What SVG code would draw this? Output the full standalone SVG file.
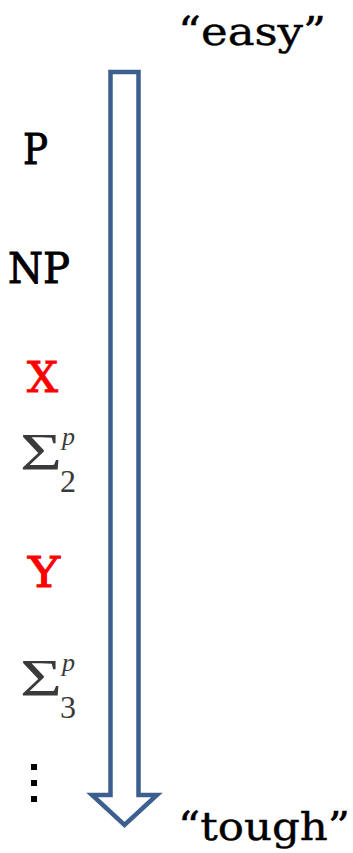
<svg xmlns="http://www.w3.org/2000/svg" width="353" height="853" viewBox="0 0 353 853">
<style>
.lbl{font-family:"DejaVu Serif","Liberation Serif",serif;font-size:43px;fill:#000;stroke:#000;stroke-width:1;}
.red{fill:#f00;stroke:#f00;}
.q{font-family:"DejaVu Serif","Liberation Serif",serif;font-size:40px;fill:#000;stroke:#000;stroke-width:0.4;}
.sig{font-family:"Liberation Serif","DejaVu Serif",serif;fill:#3a3a3a;}
.dot{fill:#000;}
</style>
<rect width="353" height="853" fill="#fff"/>
<g id="arrow">
<polygon points="110.5,72 138.5,72 138.5,795 157,795 124.5,825 92,795 110.5,795" fill="#fff" stroke="#3c5f8f" stroke-width="4.5" stroke-linejoin="miter"/>
</g>
<g id="easy"><text class="q" x="178" y="45" textLength="148" lengthAdjust="spacingAndGlyphs">“easy”</text></g>
<g id="tough"><text class="q" x="178" y="840" textLength="172" lengthAdjust="spacingAndGlyphs">“tough”</text></g>
<g id="P"><text class="lbl" x="23" y="164" textLength="25" lengthAdjust="spacingAndGlyphs">P</text></g>
<g id="NP"><text class="lbl" x="8" y="283" textLength="62" lengthAdjust="spacingAndGlyphs">NP</text></g>
<g id="X"><text class="lbl red" x="27" y="392" textLength="31" lengthAdjust="spacingAndGlyphs">X</text></g>
<g id="sigma2">
<text class="sig" x="20" y="470" font-size="53" textLength="42" lengthAdjust="spacingAndGlyphs">Σ</text>
<text class="sig" x="62" y="445" font-size="26" font-style="italic">p</text>
<text class="sig" x="60" y="492" font-size="32">2</text>
</g>
<g id="Y"><text class="lbl red" x="28" y="587" textLength="32" lengthAdjust="spacingAndGlyphs">Y</text></g>
<g id="sigma3">
<text class="sig" x="20" y="696" font-size="53" textLength="42" lengthAdjust="spacingAndGlyphs">Σ</text>
<text class="sig" x="62" y="671" font-size="26" font-style="italic">p</text>
<text class="sig" x="60" y="718" font-size="32">3</text>
</g>
<g id="dots">
<rect class="dot" x="31" y="764" width="6" height="6"/>
<rect class="dot" x="31" y="780" width="6" height="6"/>
<rect class="dot" x="31" y="796" width="6" height="6"/>
</g>
</svg>
